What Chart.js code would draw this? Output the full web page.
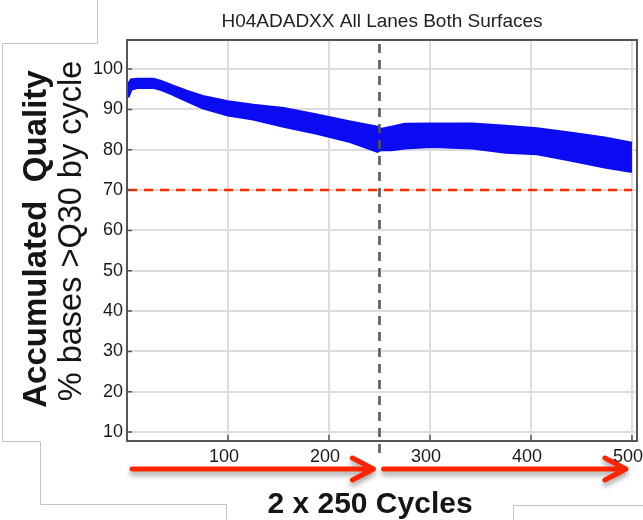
<!DOCTYPE html>
<html>
<head>
<meta charset="utf-8">
<script src="https://cdn.jsdelivr.net/npm/chart.js@4.4.0/dist/chart.umd.min.js"></script>
<style>
  html, body { margin: 0; padding: 0; background: #fff; }
  #wrap { position: relative; width: 643px; height: 520px; overflow: hidden; }
  canvas { position: absolute; left: 0; top: 0; }
  .rot { position: absolute; white-space: nowrap; line-height: 1; color: #151515;
         font-family: "Liberation Sans", Arial, sans-serif;
         transform: translate(-50%, -50%) rotate(-90deg); }
  #lab1 { left: 34px; top: 239px; font-size: 33px; font-weight: bold; }
  #lab2 { left: 70px; top: 231px; font-size: 32.5px; }
  #cycles { position: absolute; left: 370px; top: 488px; transform: translateX(-50%);
            white-space: nowrap; line-height: 1; font-size: 30px; font-weight: bold; color: #151515;
            font-family: "Liberation Sans", Arial, sans-serif; }
</style>
</head>
<body>
<div id="wrap">
  <canvas id="qChart" width="643" height="520"></canvas>
  <div class="rot" id="lab1">Accumulated&nbsp; Quality</div>
  <div class="rot" id="lab2">% bases &gt;Q30 by cycle</div>
  <div id="cycles">2 x 250 Cycles</div>
</div>
<script>
const cycles   = [1, 4, 10, 26, 33, 45, 59, 75, 100, 125, 155, 188, 221, 248,
                  251, 262, 275, 302, 342, 375, 406, 440, 473, 500];
// upper and lower edge of the lanes/surfaces band (% bases >Q30)
const upperPct = [96.0, 97.3, 97.5, 97.5, 97.0, 95.8, 94.5, 93.2, 91.9, 91.0, 90.2, 88.6, 86.9, 85.6,
                  85.0, 85.6, 86.3, 86.4, 86.4, 85.8, 85.2, 84.1, 82.9, 81.6];
const lowerPct = [93.0, 95.0, 95.4, 95.5, 95.0, 93.8, 92.2, 90.4, 88.6, 87.6, 85.8, 84.1, 82.0, 79.6,
                  80.0, 80.0, 80.4, 80.8, 80.4, 79.4, 79.0, 77.4, 75.7, 74.6];
// Q30 target line
const thresholdCycles = [1, 500];
const thresholdPct = [70, 70];
// read 1 / read 2 split and the arrows under the axis
const readSplit = 250;
const arrowSpans = [[5, 244], [254, 494]];
// tick labels
const yTicks = [10, 20, 30, 40, 50, 60, 70, 80, 90, 100];
const xTicks = [100, 200, 300, 400, 500];

const blue = '#0c0cf2';
const tickFont = { family: '"Liberation Sans Narrow", "Arial Narrow", "Liberation Sans", Arial, sans-serif', size: 18 };

function points(xs, ys) {
  return xs.map((x, i) => ({ x: x, y: ys[i] }));
}

// light grey slide outline behind the chart
const slideLines = {
  id: 'slideLines',
  beforeDraw(chart) {
    const ctx = chart.ctx;
    ctx.save();
    ctx.fillStyle = '#fff';
    ctx.fillRect(0, 0, chart.width, chart.height);
    ctx.strokeStyle = '#c4c4c4';
    ctx.lineWidth = 1;
    ctx.beginPath();
    ctx.moveTo(97.5, 0); ctx.lineTo(97.5, 43.5); ctx.lineTo(2.5, 43.5);
    ctx.lineTo(2.5, 441.5); ctx.lineTo(40.5, 441.5); ctx.lineTo(40.5, 504.5);
    ctx.lineTo(226.5, 504.5); ctx.lineTo(226.5, 520);
    ctx.moveTo(643, 505.5); ctx.lineTo(513.5, 505.5); ctx.lineTo(513.5, 520);
    ctx.stroke();
    ctx.restore();
  }
};

// box, inward ticks, read split line and arrows
const decorations = {
  id: 'decorations',
  afterDraw(chart) {
    const ctx = chart.ctx;
    const a = chart.chartArea;
    const xs = chart.scales.x, ys = chart.scales.y;
    ctx.save();
    ctx.strokeStyle = '#555';
    ctx.lineWidth = 2;
    ctx.strokeRect(a.left, a.top, a.right - a.left, a.bottom - a.top);
    ctx.lineWidth = 1.5;
    ctx.beginPath();
    yTicks.forEach(v => {
      const py = ys.getPixelForValue(v);
      ctx.moveTo(a.left, py); ctx.lineTo(a.left + 5, py);
    });
    xTicks.forEach(v => {
      const px = xs.getPixelForValue(v);
      ctx.moveTo(px, a.bottom); ctx.lineTo(px, a.bottom - 6);
    });
    ctx.stroke();

    // dashed line between the two reads
    const sx = xs.getPixelForValue(readSplit);
    ctx.strokeStyle = '#555';
    ctx.lineWidth = 2.5;
    ctx.setLineDash([9, 7]);
    ctx.beginPath();
    ctx.moveTo(sx, a.top + 4); ctx.lineTo(sx, 460);
    ctx.stroke();
    ctx.setLineDash([]);

    // red arrows with a soft shadow
    const ay = 469;
    ctx.strokeStyle = '#ff2400';
    ctx.lineWidth = 5;
    ctx.lineCap = 'round';
    ctx.lineJoin = 'round';
    ctx.shadowColor = 'rgba(0,0,0,0.35)';
    ctx.shadowBlur = 5;
    ctx.shadowOffsetY = 4;
    arrowSpans.forEach(span => {
      const x0 = xs.getPixelForValue(span[0]);
      const x1 = xs.getPixelForValue(span[1]);
      ctx.beginPath();
      ctx.moveTo(x0, ay); ctx.lineTo(x1, ay);
      ctx.moveTo(x1 - 21, ay - 11); ctx.lineTo(x1, ay); ctx.lineTo(x1 - 21, ay + 11);
      ctx.stroke();
    });
    ctx.restore();
  }
};

new Chart(document.getElementById('qChart'), {
  type: 'line',
  data: {
    datasets: [
      {
        label: 'upper',
        data: points(cycles, upperPct),
        borderColor: blue,
        backgroundColor: blue,
        borderWidth: 3,
        pointRadius: 0,
        fill: '+1'
      },
      {
        label: 'lower',
        data: points(cycles, lowerPct),
        borderColor: blue,
        backgroundColor: blue,
        borderWidth: 3,
        pointRadius: 0,
        fill: false
      },
      {
        label: 'Q30 target',
        data: points(thresholdCycles, thresholdPct),
        borderColor: '#ff2a00',
        borderWidth: 2.5,
        borderDash: [9, 7],
        pointRadius: 0,
        fill: false
      }
    ]
  },
  options: {
    responsive: false,
    animation: false,
    layout: { padding: { left: 80, right: 6, top: 0, bottom: 49 } },
    plugins: {
      legend: { display: false },
      tooltip: { enabled: false },
      title: {
        display: true,
        text: 'H04ADADXX All Lanes Both Surfaces',
        fullSize: false,
        color: '#222',
        font: { family: 'Liberation Sans, Arial, sans-serif', size: 19, weight: 'normal' },
        padding: { top: 10, bottom: 7.2 }
      }
    },
    scales: {
      x: {
        type: 'linear',
        min: 0,
        max: 505,
        afterBuildTicks: s => { s.ticks = xTicks.map(v => ({ value: v })); },
        afterFit: s => { s.height = 30; s.paddingLeft = 0; s.paddingRight = 0; },
        grid: { color: '#dcdcdc', lineWidth: 2, drawTicks: false },
        border: { display: false },
        ticks: { font: tickFont, color: '#1a1a1a', padding: 5, maxRotation: 0, labelOffset: -4 }
      },
      y: {
        min: 7.8,
        max: 107.2,
        afterBuildTicks: s => { s.ticks = yTicks.map(v => ({ value: v })); },
        afterFit: s => { s.width = 47; s.paddingTop = 0; s.paddingBottom = 0; },
        grid: { color: '#dcdcdc', lineWidth: 2, drawTicks: false },
        border: { display: false },
        ticks: { font: tickFont, color: '#1a1a1a', padding: 4 }
      }
    }
  },
  plugins: [slideLines, decorations]
});
</script>
</body>
</html>
